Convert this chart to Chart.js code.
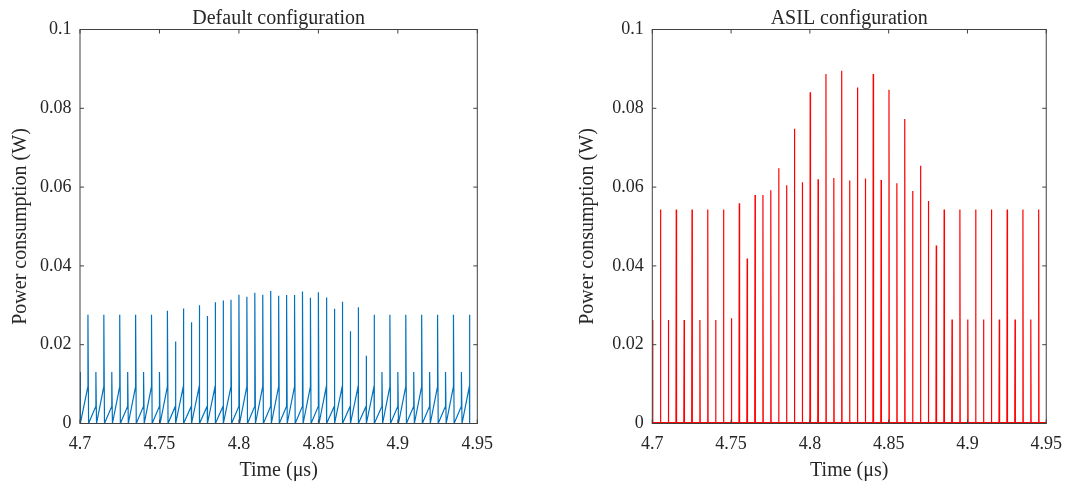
<!DOCTYPE html>
<html>
<head>
<meta charset="utf-8">
<title>Power consumption</title>
<script src="https://cdn.jsdelivr.net/npm/chart.js@4.4.1/dist/chart.umd.min.js"></script>
<style>
  html, body { margin: 0; padding: 0; background: #fff; }
  #wrap { position: relative; width: 1072px; height: 483px; }
  .panel { position: absolute; top: 0; height: 483px; }
  #left { left: 0; width: 536px; }
  #right { left: 567px; width: 505px; }
</style>
</head>
<body>
<div id="wrap">
  <div class="panel" id="left"><canvas id="defaultChart"></canvas></div>
  <div class="panel" id="right"><canvas id="asilChart"></canvas></div>
</div>
<script>
// Event times (us), one pulse every 5 ns
const eventTimes = [
  4.700, 4.705, 4.710, 4.715, 4.720, 4.725, 4.730, 4.735, 4.740, 4.745,
  4.750, 4.755, 4.760, 4.765, 4.770, 4.775, 4.780, 4.785, 4.790, 4.795,
  4.800, 4.805, 4.810, 4.815, 4.820, 4.825, 4.830, 4.835, 4.840, 4.845,
  4.850, 4.855, 4.860, 4.865, 4.870, 4.875, 4.880, 4.885, 4.890, 4.895,
  4.900, 4.905, 4.910, 4.915, 4.920, 4.925, 4.930, 4.935, 4.940, 4.945
];

// Default configuration: peak power at each event (W)
const defaultPeaks = [
  0.0131, 0.0276, 0.0131, 0.0276, 0.0131, 0.0276, 0.0131, 0.0276, 0.0131, 0.0276,
  0.0131, 0.0286, 0.0208, 0.0292, 0.0257, 0.0300, 0.0273, 0.0308, 0.0312, 0.0314,
  0.0327, 0.0322, 0.0332, 0.0327, 0.0336, 0.0324, 0.0326, 0.0326, 0.0335, 0.0319,
  0.0333, 0.0320, 0.0291, 0.0309, 0.0234, 0.0295, 0.0172, 0.0276, 0.0131, 0.0276,
  0.0131, 0.0276, 0.0131, 0.0276, 0.0131, 0.0276, 0.0131, 0.0276, 0.0131, 0.0276
];

// Default configuration: level the ramp reaches just before each event (W)
const defaultRamps = [
  0.0000, 0.0094, 0.0044, 0.0094, 0.0044, 0.0094, 0.0044, 0.0094, 0.0044, 0.0094,
  0.0044, 0.0094, 0.0044, 0.0094, 0.0044, 0.0094, 0.0044, 0.0094, 0.0044, 0.0094,
  0.0044, 0.0094, 0.0044, 0.0094, 0.0044, 0.0094, 0.0044, 0.0094, 0.0044, 0.0094,
  0.0044, 0.0094, 0.0044, 0.0094, 0.0044, 0.0094, 0.0044, 0.0094, 0.0044, 0.0094,
  0.0044, 0.0094, 0.0044, 0.0094, 0.0044, 0.0094, 0.0044, 0.0094, 0.0044, 0.0094
];

// ASIL configuration: peak power at each event (W)
const asilPeaks = [
  0.0263, 0.0543, 0.0263, 0.0543, 0.0263, 0.0543, 0.0263, 0.0543, 0.0263, 0.0543,
  0.0267, 0.0559, 0.0419, 0.0580, 0.0580, 0.0592, 0.0648, 0.0605, 0.0748, 0.0612,
  0.0841, 0.0620, 0.0887, 0.0623, 0.0895, 0.0617, 0.0853, 0.0622, 0.0887, 0.0618,
  0.0847, 0.0610, 0.0773, 0.0590, 0.0654, 0.0565, 0.0452, 0.0543, 0.0264, 0.0543,
  0.0264, 0.0543, 0.0264, 0.0543, 0.0264, 0.0543, 0.0264, 0.0543, 0.0264, 0.0543
];
const asilBase = 0.0002; // idle level between pulses

// Axis ticks
const xTickValues = [4.7, 4.75, 4.8, 4.85, 4.9, 4.95];
const xTickLabels = ['4.7', '4.75', '4.8', '4.85', '4.9', '4.95'];
const yTickValues = [0, 0.02, 0.04, 0.06, 0.08, 0.1];
const yTickLabels = ['0', '0.02', '0.04', '0.06', '0.08', '0.1'];

const pulseWidth = 0.0004; // time the pulse takes to fall back (us)

// Build the sawtooth trace: ramp -> peak -> drop to zero
function defaultTrace() {
  const pts = [];
  eventTimes.forEach((t, i) => {
    pts.push({ x: t, y: defaultRamps[i] });
    pts.push({ x: t, y: defaultPeaks[i] });
    pts.push({ x: t + pulseWidth, y: 0 });
  });
  return pts;
}

// Build the narrow pulse trace on a flat baseline
function asilTrace() {
  const pts = [];
  eventTimes.forEach((t, i) => {
    pts.push({ x: t, y: asilBase });
    pts.push({ x: t + pulseWidth / 2, y: asilPeaks[i] });
    pts.push({ x: t + pulseWidth, y: asilBase });
  });
  pts.push({ x: 4.95, y: asilBase });
  return pts;
}

Chart.defaults.font.family = "'Liberation Serif', 'Times New Roman', serif";
Chart.defaults.font.size = 18;
Chart.defaults.color = '#262626';

// Box around the plot area with inward ticks on all four sides
const frameBox = {
  id: 'frameBox',
  afterDatasetsDraw(chart) {
    const { ctx, chartArea: a, scales } = chart;
    const len = 4;
    ctx.save();
    ctx.strokeStyle = '#404040';
    ctx.lineWidth = 1;
    ctx.strokeRect(a.left, a.top, a.right - a.left, a.bottom - a.top);
    ctx.beginPath();
    xTickValues.forEach(v => {
      const px = scales.x.getPixelForValue(v);
      ctx.moveTo(px, a.bottom); ctx.lineTo(px, a.bottom - len);
      ctx.moveTo(px, a.top); ctx.lineTo(px, a.top + len);
    });
    yTickValues.forEach(v => {
      const py = scales.y.getPixelForValue(v);
      ctx.moveTo(a.left, py); ctx.lineTo(a.left + len, py);
      ctx.moveTo(a.right, py); ctx.lineTo(a.right - len, py);
    });
    ctx.stroke();
    ctx.restore();
  }
};

function makeChart(canvasId, title, data, color, yWidth, padRight) {
  return new Chart(document.getElementById(canvasId), {
    type: 'line',
    data: {
      datasets: [{
        data: data,
        borderColor: color,
        borderWidth: 1.2,
        pointRadius: 0,
        tension: 0,
        fill: false
      }]
    },
    options: {
      responsive: true,
      maintainAspectRatio: false,
      animation: false,
      events: [],
      layout: { padding: { left: 0, right: padRight, top: 0, bottom: 0 } },
      scales: {
        x: {
          type: 'linear',
          min: 4.7,
          max: 4.95,
          afterBuildTicks: (scale) => {
            scale.ticks = xTickValues.map(v => ({ value: v }));
          },
          afterFit: (scale) => { scale.height = 59.5; },
          ticks: {
            padding: 10,
            maxRotation: 0,
            callback: (value, index) => xTickLabels[index]
          },
          grid: { display: false, drawTicks: false },
          border: { display: false },
          title: {
            display: true,
            text: 'Time (μs)',
            font: { size: 20 },
            padding: { top: 0, bottom: 0 }
          }
        },
        y: {
          min: 0,
          max: 0.1,
          afterBuildTicks: (scale) => {
            scale.ticks = yTickValues.map(v => ({ value: v }));
          },
          afterFit: (scale) => { scale.width = yWidth; },
          ticks: {
            padding: 8.5,
            callback: (value, index) => yTickLabels[index]
          },
          grid: { display: false, drawTicks: false },
          border: { display: false },
          title: {
            display: true,
            text: 'Power consumption (W)',
            font: { size: 20 },
            padding: { top: 8.5, bottom: 0 }
          }
        }
      },
      plugins: {
        legend: { display: false },
        tooltip: { enabled: false },
        title: {
          display: true,
          text: title,
          fullSize: false,
          font: { size: 20, weight: 'normal', lineHeight: 1.1 },
          padding: { top: 7.5, bottom: 0 }
        }
      }
    },
    plugins: [frameBox]
  });
}

makeChart('defaultChart', 'Default configuration', defaultTrace(), '#0072BD', 80, 58.7);
makeChart('asilChart', 'ASIL configuration', asilTrace(), '#FF0000', 85.3, 22.5);
</script>
</body>
</html>
